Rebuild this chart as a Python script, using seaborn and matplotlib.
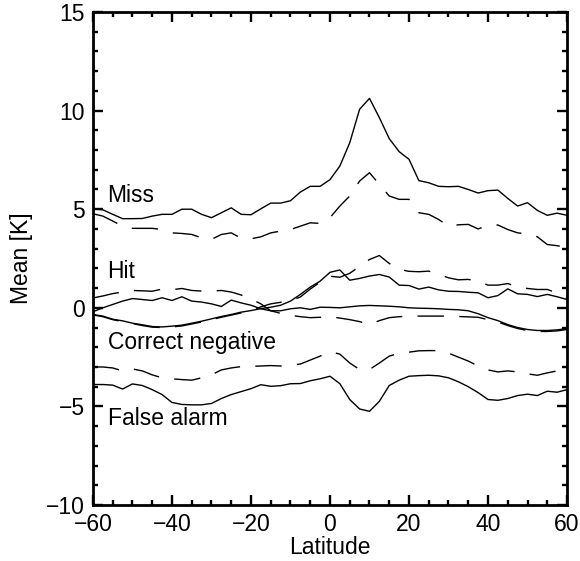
import numpy as np
import pandas as pd
import matplotlib
matplotlib.use("Agg")
import matplotlib.pyplot as plt
import seaborn as sns
from matplotlib.ticker import MultipleLocator

lat = [-60.0, -57.5, -55.0, -52.5, -50.0, -47.5, -45.0, -42.5, -40.0, -37.5,
       -35.0, -32.5, -30.0, -27.5, -25.0, -22.5, -20.0, -17.5, -15.0, -12.5,
       -10.0, -7.5, -5.0, -2.5, 0.0, 2.5, 5.0, 7.5, 10.0, 12.5,
       15.0, 17.5, 20.0, 22.5, 25.0, 27.5, 30.0, 32.5, 35.0, 37.5,
       40.0, 42.5, 45.0, 47.5, 50.0, 52.5, 55.0, 57.5, 60.0]

miss_solid = [5.02, 4.97, 4.74, 4.52, 4.52, 4.53, 4.65, 4.74, 4.74, 5.0, 5.0, 4.74, 4.57,
              4.82, 5.07, 4.74, 4.72, 5.02, 5.31, 5.31, 5.43, 5.87, 6.16, 6.16, 6.5, 7.19,
              8.37, 10.07, 10.62, 9.64, 8.58, 7.92, 7.53, 6.45, 6.34, 6.16, 6.14, 6.16, 6.0,
              5.82, 5.94, 5.97, 5.55, 5.16, 5.33, 4.94, 4.69, 4.8, 4.69]
miss_dashed = [4.77, 4.65, 4.4, 4.14, 4.03, 4.03, 4.03, 3.97, 3.8, 3.77, 3.72, 3.55, 3.47,
               3.72, 3.8, 3.53, 3.5, 3.6, 3.8, 3.89, 3.97, 4.14, 4.31, 4.28, 4.57, 5.16,
               5.67, 6.43, 6.85, 6.26, 5.67, 5.5, 5.5, 4.82, 4.74, 4.48, 4.14, 4.21, 4.23,
               4.0, 4.18, 4.2, 3.97, 3.8, 3.75, 3.6, 3.21, 3.15, 3.05]
hit_solid = [-0.34, -0.42, -0.58, -0.66, -0.78, -0.86, -0.95, -0.97, -0.93, -0.88, -0.78,
             -0.68, -0.56, -0.44, -0.34, -0.22, -0.14, -0.04, 0.03, 0.13, 0.34, 0.68, 1.05,
             1.35, 1.8, 1.92, 1.4, 1.49, 1.61, 1.69, 1.56, 1.15, 1.13, 0.95, 1.05, 0.91,
             0.84, 0.83, 0.79, 0.76, 0.51, 0.62, 0.96, 0.71, 0.68, 0.57, 0.68, 0.56, 0.42]
hit_dashed = [-0.36, -0.45, -0.6, -0.7, -0.8, -0.9, -0.98, -1.0, -0.97, -0.92, -0.82, -0.72,
              -0.6, -0.48, -0.37, -0.26, -0.15, 0.05, 0.2, 0.28, 0.35, 0.55, 0.95, 1.3, 1.6,
              1.55, 1.75, 2.1, 2.45, 2.65, 2.25, 1.95, 1.85, 1.83, 1.86, 1.7, 1.52, 1.42,
              1.44, 1.35, 1.15, 1.15, 1.23, 1.06, 0.98, 0.93, 0.93, 0.75, 0.5]
cn_solid = [-0.2, 0.0, 0.17, 0.34, 0.47, 0.42, 0.37, 0.51, 0.37, 0.56, 0.34, 0.29, 0.2, 0.07,
            0.39, 0.25, 0.13, -0.05, -0.15, -0.15, -0.05, 0.0, -0.08, 0.03, 0.02, 0.0, 0.05,
            0.1, 0.12, 0.1, 0.08, 0.05, 0.0, -0.02, -0.03, -0.05, -0.08, -0.1, -0.15, -0.3,
            -0.5, -0.65, -0.85, -1.0, -1.1, -1.15, -1.15, -1.12, -1.05]
cn_dashed = [0.5, 0.6, 0.72, 0.8, 0.88, 0.86, 0.84, 0.95, 0.92, 0.98, 0.88, 0.85, 0.85, 0.88,
             0.8, 0.65, 0.45, 0.2, -0.15, -0.28, -0.38, -0.45, -0.5, -0.48, -0.45, -0.52,
             -0.6, -0.7, -0.85, -0.65, -0.5, -0.45, -0.43, -0.42, -0.42, -0.42, -0.42, -0.44,
             -0.46, -0.48, -0.6, -0.72, -0.9, -1.05, -1.15, -1.2, -1.2, -1.17, -1.1]
fa_dashed = [-3.0, -3.0, -3.05, -3.2, -3.1, -3.2, -3.4, -3.55, -3.6, -3.64, -3.67, -3.55,
             -3.4, -3.15, -3.05, -2.98, -2.97, -2.95, -2.93, -2.95, -2.92, -2.85, -2.65,
             -2.45, -2.22, -2.35, -2.8, -3.13, -3.13, -2.8, -2.45, -2.3, -2.25, -2.18, -2.17,
             -2.17, -2.3, -2.5, -2.7, -2.95, -3.15, -3.25, -3.2, -3.25, -3.35, -3.42, -3.3,
             -3.2, -3.1]
fa_solid = [-3.89, -3.89, -3.92, -4.12, -3.86, -3.94, -4.15, -4.4, -4.8, -4.9, -4.92, -4.92,
            -4.85, -4.6, -4.4, -4.25, -4.1, -3.9, -3.98, -3.95, -3.85, -3.84, -3.7, -3.6,
            -3.47, -3.85, -4.65, -5.13, -5.25, -4.74, -3.94, -3.67, -3.47, -3.44, -3.42,
            -3.45, -3.55, -3.75, -4.0, -4.3, -4.65, -4.69, -4.6, -4.45, -4.38, -4.45, -4.23,
            -4.28, -4.15]

labels = ["Miss", "Hit", "Correct negative", "False alarm"]
label_x = [-56.3, -56.3, -56.3, -56.3]
label_y = [5.7, 1.85, -1.75, -5.6]

sns.set_style("ticks")
plt.rcParams['font.family'] = ['Liberation Sans', 'DejaVu Sans']
plt.rcParams['axes.unicode_minus'] = True
plt.rcParams['text.color'] = 'black'
plt.rcParams['axes.labelcolor'] = 'black'
plt.rcParams['xtick.color'] = 'black'
plt.rcParams['ytick.color'] = 'black'

FS = 16.5

fig = plt.figure(figsize=(5.8, 5.61), dpi=100)
ax = fig.add_axes([0.1603, 0.0998, 0.8173, 0.8788])

series = [
    (miss_solid, 'solid'), (miss_dashed, 'dashed'),
    (hit_solid, 'solid'), (hit_dashed, 'dashed'),
    (cn_solid, 'solid'), (cn_dashed, 'dashed'),
    (fa_dashed, 'dashed'), (fa_solid, 'solid'),
]
for vals, style in series:
    ls = '-' if style == 'solid' else (0, (19, 11))
    sns.lineplot(x=lat, y=vals, ax=ax, color='black', linewidth=1.0,
                 linestyle=ls, estimator=None, sort=False)

for t, xx, yy in zip(labels, label_x, label_y):
    ax.text(xx, yy, t, fontsize=FS, va='center', ha='left', color='black')

ax.set_xlim(-60, 60)
ax.set_ylim(-10, 15)
ax.xaxis.set_major_locator(MultipleLocator(20))
ax.xaxis.set_minor_locator(MultipleLocator(5))
ax.yaxis.set_major_locator(MultipleLocator(5))
ax.yaxis.set_minor_locator(MultipleLocator(1))
ax.tick_params(which='both', direction='in', top=True, right=True, color='black',
               labelsize=FS, labelcolor='black')
ax.tick_params(which='major', length=7, width=1.7, pad=6)
ax.tick_params(which='minor', length=3.8, width=1.7)
for sp in ax.spines.values():
    sp.set_linewidth(2.0)
    sp.set_color('black')
ax.set_xlabel("Latitude", fontsize=FS, labelpad=0, color='black')
ax.set_ylabel("Mean [K]", fontsize=FS, labelpad=9, color='black')
ax.set_facecolor('white')
fig.patch.set_facecolor('white')

fig.savefig("out.png", dpi=100)
